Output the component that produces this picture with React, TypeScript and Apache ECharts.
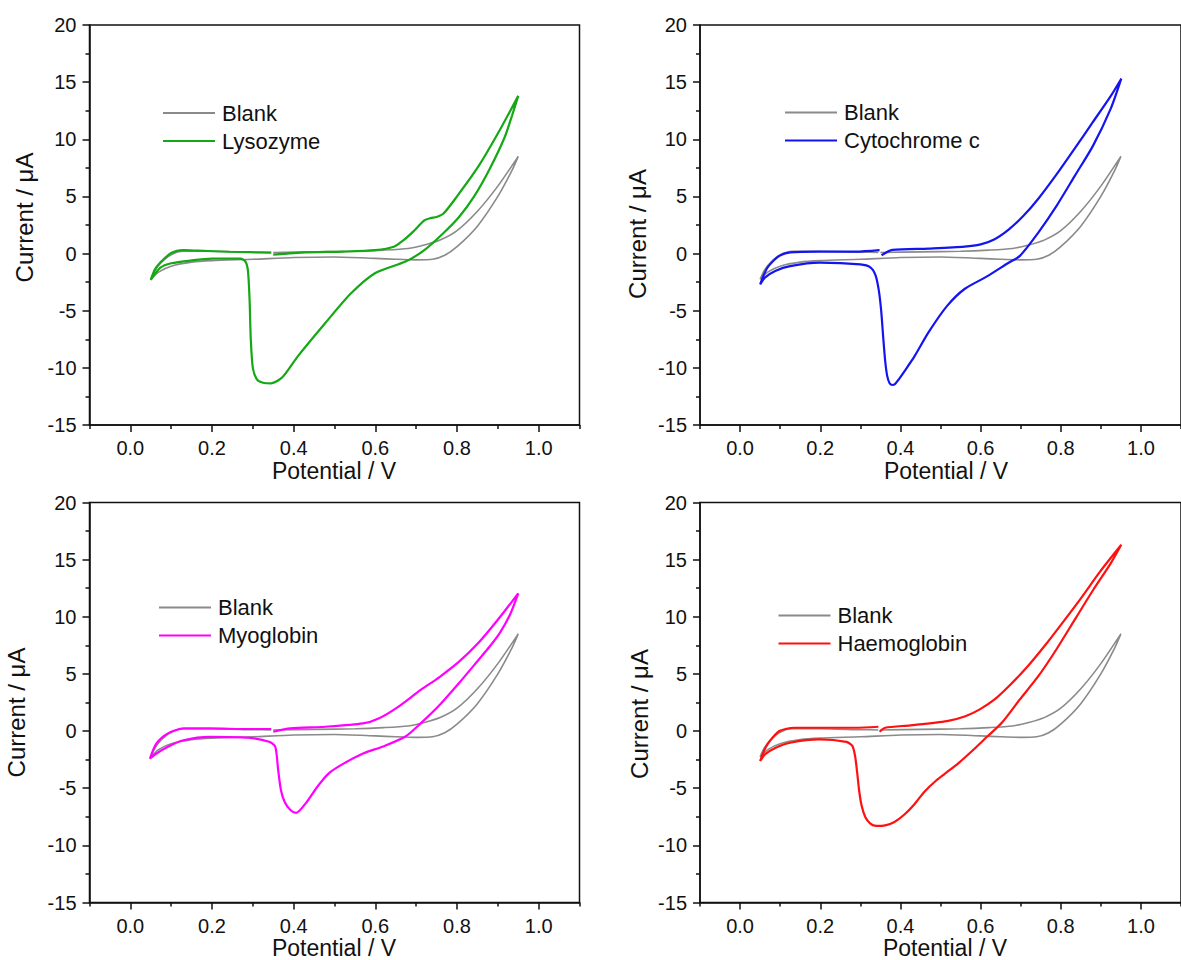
import React, { useEffect, useRef } from "react";
import * as echarts from "echarts";

// ---- data ----
const xMajorTicks = [0, 0.2, 0.4, 0.6, 0.8, 1.0];
const xMinorTicks = [-0.1, 0.1, 0.3, 0.5, 0.7, 0.9, 1.1];
const panelNames = ["Lysozyme", "Cytochrome c", "Myoglobin", "Haemoglobin"];
const panelColors = ["#14a814", "#1414f0", "#ff00ff", "#ff1010"];

const blank = [
  [0.35, 0.1], [0.45, 0.15], [0.55, 0.2], [0.62, 0.3], [0.68, 0.45], [0.72, 0.75], [0.76, 1.2],
  [0.8, 2.0], [0.85, 3.7], [0.9, 5.9], [0.95, 8.5],
  [0.935, 7.3], [0.9, 5.0], [0.85, 2.4], [0.8, 0.6], [0.77, -0.15], [0.74, -0.5], [0.7, -0.55],
  [0.65, -0.5], [0.6, -0.42], [0.5, -0.3], [0.4, -0.35], [0.3, -0.5], [0.2, -0.62], [0.15, -0.75],
  [0.1, -1.1], [0.07, -1.6], [0.05, -2.25],
  [0.06, -1.5], [0.075, -0.8], [0.1, -0.1], [0.13, 0.2], [0.2, 0.2], [0.3, 0.12], [0.345, 0.1],
];

const lysozyme = [
  [0.35, -0.1], [0.43, 0.1], [0.52, 0.17], [0.6, 0.3], [0.645, 0.6], [0.67, 1.2], [0.692, 1.9],
  [0.72, 2.9], [0.735, 3.1], [0.75, 3.2], [0.767, 3.5], [0.8, 5.0], [0.852, 7.6], [0.9, 10.5], [0.95, 13.8],
  [0.935, 12.1], [0.917, 10.2], [0.88, 7.4], [0.842, 5.0], [0.805, 3.2], [0.767, 1.8], [0.72, 0.3],
  [0.674, -0.7], [0.6, -1.7], [0.54, -3.5], [0.477, -6.1], [0.41, -9.0], [0.373, -10.8], [0.345, -11.35],
  [0.325, -11.3], [0.31, -11.0], [0.3, -10.0], [0.295, -7.5], [0.292, -4.0], [0.288, -1.5],
  [0.282, -0.7], [0.27, -0.45], [0.2, -0.45], [0.15, -0.6], [0.1, -0.85], [0.073, -1.25], [0.05, -2.3],
  [0.06, -1.4], [0.073, -0.8], [0.1, 0.05], [0.13, 0.3], [0.167, 0.25], [0.242, 0.16], [0.345, 0.08],
];

const cytochrome = [
  [0.353, -0.15], [0.38, 0.32], [0.47, 0.44], [0.56, 0.6], [0.6, 0.8], [0.635, 1.26], [0.67, 2.1],
  [0.707, 3.3], [0.744, 4.8], [0.79, 6.95], [0.835, 9.2], [0.88, 11.5], [0.925, 13.8], [0.951, 15.3],
  [0.925, 12.7], [0.88, 9.4], [0.835, 6.8], [0.79, 4.2], [0.744, 1.84], [0.698, -0.2], [0.67, -0.8],
  [0.616, -2.0], [0.56, -3.1], [0.516, -4.6], [0.47, -6.9], [0.435, -9.0], [0.41, -10.3],
  [0.396, -11.0], [0.387, -11.4], [0.38, -11.5], [0.373, -11.35], [0.367, -10.7], [0.362, -9.4],
  [0.357, -7.3], [0.352, -5.0], [0.346, -3.2], [0.338, -1.9], [0.325, -1.2], [0.3, -0.95],
  [0.198, -0.8], [0.125, -1.1], [0.089, -1.5], [0.062, -2.1], [0.05, -2.7],
  [0.06, -1.8], [0.071, -1.1], [0.098, -0.2], [0.125, 0.1], [0.198, 0.17], [0.289, 0.17], [0.348, 0.3],
];

const myoglobin = [
  [0.35, -0.06], [0.392, 0.23], [0.477, 0.38], [0.57, 0.67], [0.608, 1.1], [0.655, 2.1], [0.711, 3.6],
  [0.758, 4.75], [0.805, 6.07], [0.852, 7.7], [0.899, 9.7], [0.95, 12.05],
  [0.93, 10.2], [0.905, 8.6], [0.88, 7.4], [0.852, 6.2], [0.805, 4.2], [0.758, 2.3], [0.711, 0.67],
  [0.673, -0.5], [0.617, -1.37], [0.57, -1.96], [0.523, -2.83], [0.486, -3.7], [0.458, -4.87], [0.43, -6.3],
  [0.406, -7.15], [0.392, -6.9], [0.378, -6.2], [0.369, -5.2], [0.362, -3.4], [0.355, -1.37],
  [0.34, -0.93], [0.289, -0.58], [0.195, -0.5], [0.13, -0.8], [0.092, -1.37], [0.064, -1.96], [0.048, -2.4],
  [0.064, -1.08], [0.092, -0.2], [0.13, 0.23], [0.195, 0.23], [0.289, 0.18], [0.345, 0.18],
];

const haemoglobin = [
  [0.348, -0.06], [0.362, 0.29], [0.425, 0.5], [0.516, 0.87], [0.562, 1.3], [0.598, 1.9], [0.635, 2.77],
  [0.671, 3.94], [0.716, 5.6], [0.762, 7.55], [0.807, 9.6], [0.853, 11.75], [0.898, 13.95], [0.951, 16.3],
  [0.925, 14.7], [0.88, 12.3], [0.835, 9.75], [0.789, 7.14], [0.744, 4.8], [0.698, 2.77], [0.653, 0.73],
  [0.616, -0.5], [0.58, -1.7], [0.545, -2.8], [0.516, -3.6], [0.49, -4.3], [0.46, -5.3], [0.435, -6.4],
  [0.41, -7.3], [0.385, -7.95], [0.362, -8.25], [0.34, -8.3], [0.325, -8.1], [0.312, -7.5],
  [0.303, -6.5], [0.297, -5.2], [0.292, -3.6], [0.287, -2.2], [0.28, -1.3], [0.265, -0.95],
  [0.198, -0.73], [0.125, -1.02], [0.089, -1.46], [0.062, -2.04], [0.05, -2.62],
  [0.06, -1.7], [0.071, -1.02], [0.098, 0], [0.135, 0.29], [0.198, 0.29], [0.289, 0.29], [0.345, 0.38],
];

const panelData = [lysozyme, cytochrome, myoglobin, haemoglobin];

// ---- layout ----
const grids = [
  { left: 89.5, top: 25 },
  { left: 700, top: 25 },
  { left: 89.5, top: 502.5 },
  { left: 700, top: 502.5 },
];
const GW = 490;
const GH = 400;
const legendPos = [
  { left: 163, top: 102 },
  { left: 785, top: 101.5 },
  { left: 159, top: 596.5 },
  { left: 778.5, top: 604.5 },
];
const yTitlePos = [
  { x: 24, y: 217.5 },
  { x: 637, y: 234 },
  { x: 16.5, y: 712.5 },
  { x: 639, y: 714 },
];
const xTitlePos = [
  { x: 334, y: 471 },
  { x: 946, y: 471 },
  { x: 334, y: 947.5 },
  { x: 945, y: 947.5 },
];

const FONT = "'Liberation Sans', Arial, sans-serif";
const INK = "#111";

export default function App() {
  const ref = useRef<HTMLDivElement>(null);
  useEffect(() => {
    if (!ref.current) return;
    const chart = echarts.init(ref.current, null, { renderer: "svg" });

    const grid = grids.map((g) => ({
      left: g.left,
      top: g.top,
      width: GW,
      height: GH,
      show: true,
      borderColor: INK,
      borderWidth: 1.5,
      backgroundColor: "transparent",
    }));

    const xAxisMain = grids.map((_, i) => ({
      type: "value",
      gridIndex: i,
      min: -0.1,
      max: 1.1,
      interval: 0.1,
      splitLine: { show: false },
      axisLine: { show: true, onZero: false, lineStyle: { color: INK, width: 1.5 } },
      axisTick: {
        show: true,
        length: 7,
        customValues: xMajorTicks,
        lineStyle: { color: INK, width: 1.5 },
      },
      axisLabel: {
        show: true,
        margin: 13,
        customValues: xMajorTicks,
        formatter: (v: number) => v.toFixed(1),
        color: INK,
        fontSize: 20,
        fontFamily: FONT,
      },
    }));
    const xAxisMinor = grids.map((_, i) => ({
      type: "value",
      gridIndex: i,
      min: -0.1,
      max: 1.1,
      interval: 0.1,
      position: "bottom",
      splitLine: { show: false },
      axisLine: { show: false, onZero: false },
      axisTick: {
        show: true,
        length: 4,
        customValues: xMinorTicks,
        lineStyle: { color: INK, width: 1.5 },
      },
      axisLabel: { show: false },
    }));

    const yAxis = grids.map((_, i) => ({
      type: "value",
      gridIndex: i,
      min: -15,
      max: 20,
      interval: 5,
      splitLine: { show: false },
      axisLine: { show: true, onZero: false, lineStyle: { color: INK, width: 1.5 } },
      axisTick: { show: true, length: 7, lineStyle: { color: INK, width: 1.5 } },
      minorTick: { show: true, splitNumber: 2, length: 4, lineStyle: { color: INK, width: 1.5 } },
      minorSplitLine: { show: false },
      axisLabel: {
        margin: 13,
        color: INK,
        fontSize: 20,
        fontFamily: FONT,
      },
    }));

    const series: any[] = [];
    grids.forEach((_, i) => {
      series.push({
        type: "line",
        name: "Blank",
        xAxisIndex: i,
        yAxisIndex: i,
        data: blank,
        showSymbol: false,
        symbol: "none",
        smooth: 0.25,
        lineStyle: { color: "#8a8a8a", width: 1.6 },
        itemStyle: { color: "#8a8a8a" },
        z: 2,
      });
      series.push({
        type: "line",
        name: panelNames[i],
        xAxisIndex: i,
        yAxisIndex: i,
        data: panelData[i],
        showSymbol: false,
        symbol: "none",
        smooth: 0.25,
        lineStyle: { color: panelColors[i], width: 2.2 },
        itemStyle: { color: panelColors[i] },
        z: 3,
      });
    });

    const legend = grids.map((_, i) => ({
      data: ["Blank", panelNames[i]],
      left: legendPos[i].left,
      top: legendPos[i].top,
      orient: "vertical",
      padding: 0,
      itemGap: 6,
      itemWidth: 52,
      itemHeight: 2,
      icon: "rect",
      selectedMode: false,
      textStyle: { fontSize: 22, lineHeight: 22, color: INK, fontFamily: FONT, padding: [0, 0, 0, 2] },
    }));

    const graphic: any[] = [];
    grids.forEach((_, i) => {
      graphic.push({
        type: "text",
        x: yTitlePos[i].x,
        y: yTitlePos[i].y,
        rotation: Math.PI / 2,
        style: {
          text: "Current / μA",
          fill: INK,
          font: `24px ${FONT}`,
          align: "center",
          verticalAlign: "middle",
        },
      });
      graphic.push({
        type: "text",
        x: xTitlePos[i].x,
        y: xTitlePos[i].y,
        style: {
          text: "Potential / V",
          fill: INK,
          font: `23px ${FONT}`,
          align: "center",
          verticalAlign: "middle",
        },
      });
    });

    chart.setOption({
      animation: false,
      backgroundColor: "#fff",
      grid,
      xAxis: [...xAxisMain, ...xAxisMinor],
      yAxis,
      series,
      legend,
      graphic,
    });

    return () => chart.dispose();
  }, []);

  return (
    <div
      ref={ref}
      style={{ position: "fixed", left: 0, top: 0, width: 1181, height: 960 }}
    />
  );
}
